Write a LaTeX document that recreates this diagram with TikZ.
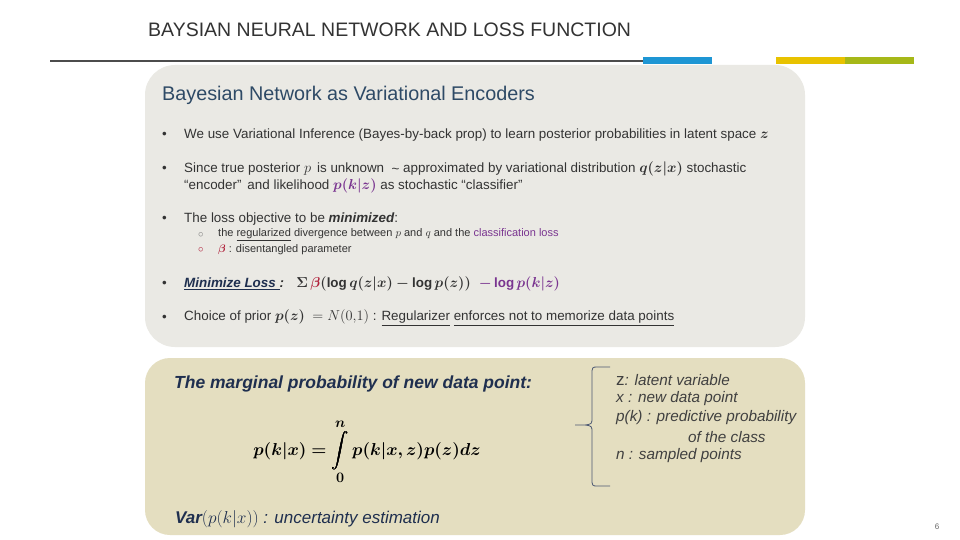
\documentclass[tikz,border=0pt]{standalone}
\usepackage{amsmath,bm}
\usepackage{fontspec}
\setmainfont{Liberation Sans}
\newcommand{\ul}[1]{\underline{#1}}
\definecolor{ttl}{HTML}{2E4A66}
\definecolor{navy}{HTML}{1F2F4F}
\definecolor{purp}{HTML}{7A3590}
\definecolor{betac}{HTML}{B0203A}
\definecolor{boxA}{HTML}{EAE9E4}
\definecolor{boxB}{HTML}{E4DEC0}
\definecolor{txt}{HTML}{333333}
\definecolor{barB}{HTML}{1E96D4}
\definecolor{barY}{HTML}{E8C200}
\definecolor{barG}{HTML}{A6B818}
\begin{document}
\begin{tikzpicture}[x=1pt,y=-1pt,
  body/.style={anchor=west,inner sep=0pt,text=txt,font=\fontsize{13.4}{15}\selectfont},
  sub/.style={anchor=west,inner sep=0pt,text=txt,font=\fontsize{11}{12}\selectfont},
  side/.style={anchor=west,inner sep=0pt,text=black!75,font=\fontsize{15.3}{17}\selectfont\itshape}]
\useasboundingbox (0,0) rectangle (960,540);
\fill[white] (0,0) rectangle (960,540);
\node[anchor=west,inner sep=0pt,text=black!80,font=\fontsize{19.5}{22}\selectfont] (title) at (148,30) {BAYSIAN NEURAL NETWORK AND LOSS FUNCTION};
\draw[black!70,line width=1.5pt] (50,61) -- (643,61);
\fill[barB] (643,57) rectangle (712,64);
\fill[barY] (776,57) rectangle (845,64);
\fill[barG] (845,57) rectangle (914,64);
\fill[boxA] (145,65) [rounded corners=30pt] rectangle (805,347);
\fill[boxB] (145,358) [rounded corners=25pt] rectangle (805,535);
\node[anchor=west,inner sep=0pt,text=ttl,font=\fontsize{19.8}{22}\selectfont] (h1) at (162,95) {Bayesian Network as Variational Encoders};
\foreach \y in {135,169,219,284,318} \node[body] at (162,\y) {\textbullet};
\node[body] (b1) at (184,135) {We use Variational Inference (Bayes-by-back prop) to learn posterior probabilities in latent space $\bm z$};
\node[body] (b2) at (184,169) {Since true posterior $p$\, is unknown \;\raisebox{-1pt}{\textasciitilde} approximated by variational distribution $\bm{q(z|x)}$ stochastic};
\node[body] (b2b) at (184,186) {``encoder''\, and likelihood {\color{purp}$\bm{p(k|z)}$} as stochastic ``classifier''};
\node[body] (b3) at (184,219) {The loss objective to be \textbf{\textit{minimized}}:};
\node[sub,text=black!50] at (198,235) {$\circ$};
\node[sub,text=betac] at (198,250) {$\circ$};
\node[sub] (s1) at (218,235) {the \ul{regularized} divergence between $p$ and $q$ and the {\color{purp}classification loss}};
\node[sub] (s2) at (218,250) {{\color{betac}$\bm\beta$} : disentangled parameter};
\node[body] (b4) at (184,284) {\textcolor{navy}{\ul{\textbf{\textit{Minimize Loss }}}}\textbf{\textit{:}}\;\; $\bm{\Sigma}\,{\color{betac}\bm\beta}\bm{(\log q(z|x)-\log p(z))}\;\;{\color{purp}\bm{-\log p(k|z)}}$};
\node[body] (b5) at (184,318) {Choice of prior $\bm{p(z)}$\;\;$=N(0{,}1)$ : \ul{Regularizer} \ul{enforces not to memorize data points}};
\node[anchor=west,inner sep=0pt,text=navy,font=\fontsize{17.5}{19}\selectfont\bfseries\itshape] (h2) at (174,384) {The marginal probability of new data point:};
\node[inner sep=0pt,font=\fontsize{19}{22}\selectfont] (eq) at (367,452) {$\displaystyle\bm{p(k|x)=\int\limits_{0}^{n}p(k|x,z)p(z)dz}$};
\node[anchor=west,inner sep=0pt,text=navy,font=\fontsize{17}{19}\selectfont\itshape] (var) at (175,519) {\textbf{Var}$(p(k|x))$ : uncertainty estimation};
\coordinate (bt) at (610,367);
\coordinate (bb) at (610,486);
\coordinate (bm) at (575,425);
\draw[navy!80,line width=0.8pt] (bt) -- (598,367) .. controls (592,367) .. (592,375) -- (592,417) .. controls (592,424) .. (585,425) -- (bm)
  (585,425) .. controls (592,426) .. (592,433) -- (592,478) .. controls (592,486) .. (598,486) -- (bb);
\node[side] (l1) at (616,380) {\textup{\fontsize{17}{17}\selectfont z}: latent variable};
\node[side] (l2) at (616,399) {x : new data point};
\node[side] (l3) at (616,418) {p(k) : predictive probability};
\node[side] (l4) at (688,437) {of the class};
\node[side] (l5) at (616,456) {n : sampled points};
\node[anchor=center,inner sep=0pt,text=black!60,font=\fontsize{8}{9}\selectfont] (pg) at (937,527) {6};
\end{tikzpicture}
\end{document}
